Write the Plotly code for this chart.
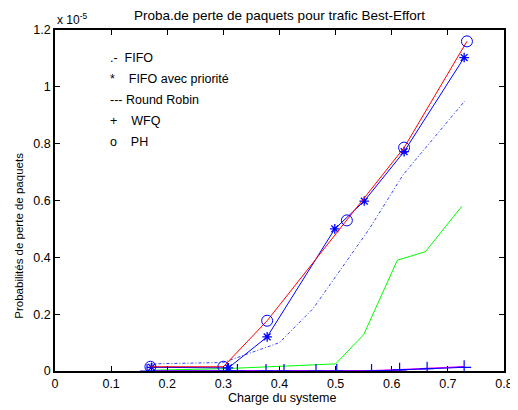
import plotly.graph_objects as go

# Values in units of 1e-5
ph_x = [0.17, 0.30, 0.378, 0.52, 0.622, 0.734]
ph_y = [0.015, 0.015, 0.177, 0.53, 0.786, 1.16]

fifo_prio_x = [0.172, 0.309, 0.378, 0.4985, 0.551, 0.622, 0.729]
fifo_prio_y = [0.013, 0.011, 0.12, 0.50, 0.598, 0.772, 1.103]

fifo_x = [0.17, 0.30, 0.40, 0.46, 0.56, 0.62, 0.73]
fifo_y = [0.025, 0.03, 0.10, 0.22, 0.50, 0.69, 0.95]

green_x = [0.175, 0.30, 0.50, 0.55, 0.61, 0.66, 0.725]
green_y = [0.003, 0.008, 0.025, 0.128, 0.39, 0.42, 0.58]

wfq_x = [0.164, 0.307, 0.325, 0.376, 0.408, 0.465, 0.502, 0.564, 0.614, 0.663, 0.729]
wfq_y = [0.0, 0.0, 0.0, 0.0, 0.0, 0.0, 0.0, 0.0, 0.004, 0.008, 0.013]

magenta_x = [0.175, 0.30, 0.40, 0.50, 0.564, 0.614, 0.663, 0.729]
magenta_y = [0.0, 0.0, 0.0, 0.0, 0.001, 0.004, 0.009, 0.015]

legend_labels = [".-  FIFO", "*    FIFO avec priorité", "--- Round Robin", "+    WFQ", "o    PH"]

title_text = "Proba.de perte de paquets pour trafic Best-Effort"
x_title = "Charge du systeme"
y_title = "Probabilités de perte de paquets"
scale_text = "x 10<sup>-5</sup>"

FONT = "Liberation Sans, Arial, sans-serif"
BLUE = "#0000FF"

fig = go.Figure()
fig.add_trace(go.Scatter(x=green_x, y=green_y, mode="lines",
                         line=dict(color="#00FF00", width=1)))
fig.add_trace(go.Scatter(x=magenta_x, y=magenta_y, mode="lines",
                         line=dict(color="#FF00FF", width=1.5)))
fig.add_trace(go.Scatter(x=wfq_x, y=wfq_y, mode="lines+markers",
                         line=dict(color=BLUE, width=1),
                         marker=dict(symbol="cross-thin-open", size=10, color=BLUE,
                                     line=dict(color=BLUE, width=1.2))))
fig.add_trace(go.Scatter(x=fifo_x, y=fifo_y, mode="lines",
                         line=dict(color="#3344FF", width=1, dash="3px,2px,1px,2px")))
fig.add_trace(go.Scatter(x=fifo_prio_x, y=fifo_prio_y, mode="lines+markers",
                         line=dict(color=BLUE, width=1),
                         marker=dict(symbol="asterisk-open", size=8, color=BLUE,
                                     line=dict(color=BLUE, width=1.3))))
fig.add_trace(go.Scatter(x=ph_x, y=ph_y, mode="lines+markers",
                         line=dict(color="#FF0000", width=1),
                         marker=dict(symbol="circle-open", size=11, color=BLUE,
                                     line=dict(color=BLUE, width=1))))

# page body has an 8px margin: work in screen pixels and subtract it
OFF = 8
SW, SH = 518, 410
W, H = SW - OFF, SH - OFF
L, T = 55 - OFF, 30 - OFF
R = SW - 504
B = SH - 371.5
pw, ph = W - L - R, H - T - B


def px(sx):
    return (sx - OFF - L) / pw


def py(sy):
    return (H - B - (sy - OFF)) / ph


annotations = []
leg_y0 = 1.1015
leg_step = 0.0735
for i, lab in enumerate(legend_labels):
    annotations.append(dict(x=0.094, y=leg_y0 - i * leg_step, xref="x", yref="y",
                            text=lab, showarrow=False, xanchor="left", yanchor="middle",
                            font=dict(family=FONT, size=12.5, color="black")))
annotations.append(dict(x=0.0, y=1.0, xref="paper", yref="paper", text=scale_text,
                        showarrow=False, xanchor="left", yanchor="bottom", yshift=1,
                        font=dict(family=FONT, size=12, color="black")))
annotations.append(dict(x=px(282), y=py(399), xref="paper", yref="paper",
                        text=x_title, showarrow=False, xanchor="center", yanchor="middle",
                        font=dict(family=FONT, size=12.5, color="black")))
annotations.append(dict(x=px(19), y=py(236), xref="paper", yref="paper",
                        text=y_title, showarrow=False, xanchor="center", yanchor="middle",
                        textangle=-90,
                        font=dict(family=FONT, size=11.5, color="black")))
annotations.append(dict(x=px(279.5), y=py(15), xref="paper", yref="paper",
                        text=title_text, showarrow=False, xanchor="center", yanchor="middle",
                        font=dict(family=FONT, size=13.5, color="black")))

fig.update_layout(
    width=W, height=H,
    margin=dict(l=L, r=R, t=T, b=B, pad=0, autoexpand=False),
    paper_bgcolor="white", plot_bgcolor="white",
    showlegend=False,
    font=dict(family=FONT, size=12, color="black"),
    annotations=annotations,
)

fig.update_xaxes(range=[0, 0.8], dtick=0.1, tick0=0, showgrid=False, zeroline=False,
                 showline=True, linecolor="black", linewidth=1.5, mirror="ticks",
                 ticks="inside", ticklen=5, tickcolor="black", automargin=False,
                 tickfont=dict(family=FONT, size=12.5))
fig.update_yaxes(range=[0, 1.2], dtick=0.2, tick0=0, showgrid=False, zeroline=False,
                 showline=True, linecolor="black", linewidth=1.5, mirror="ticks",
                 ticks="inside", ticklen=5, tickcolor="black", automargin=False,
                 tickfont=dict(family=FONT, size=12.5))

fig.write_html("out.html")
